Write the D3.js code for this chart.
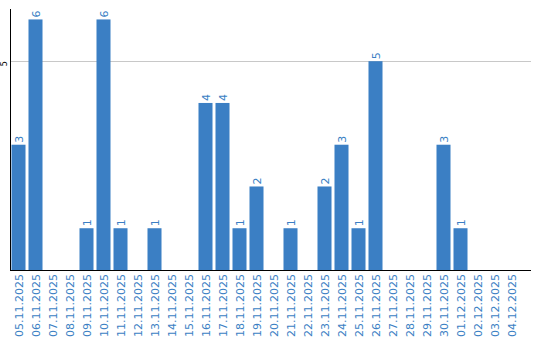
<!DOCTYPE html>
<html>
<head>
<meta charset="utf-8">
<script src="https://cdn.jsdelivr.net/npm/d3@7"></script>
<style>
  body { margin: 0; background: #fff; }
  svg text { font-family: "DejaVu Sans", Verdana, sans-serif; }
</style>
</head>
<body>
<div id="chart"></div>
<script>
var dates = [
  "05.11.2025", "06.11.2025", "07.11.2025", "08.11.2025", "09.11.2025",
  "10.11.2025", "11.11.2025", "12.11.2025", "13.11.2025", "14.11.2025",
  "15.11.2025", "16.11.2025", "17.11.2025", "18.11.2025", "19.11.2025",
  "20.11.2025", "21.11.2025", "22.11.2025", "23.11.2025", "24.11.2025",
  "25.11.2025", "26.11.2025", "27.11.2025", "28.11.2025", "29.11.2025",
  "30.11.2025", "01.12.2025", "02.12.2025", "03.12.2025", "04.12.2025"
];
var counts = [3, 6, 0, 0, 1, 6, 1, 0, 1, 0, 0, 4, 4, 1, 2, 0, 1, 0, 2, 3, 1, 5, 0, 0, 0, 3, 1, 0, 0, 0];
var yTicks = [5];

var width = 540, height = 340;
var plotLeft = 10, plotRight = 531, plotTop = 9, plotBottom = 270;
var barColor = "#3b7fc4";

var svg = d3.select("#chart").append("svg")
  .attr("width", width)
  .attr("height", height);

var x = d3.scaleBand()
  .domain(dates)
  .range([plotLeft, 520])
  .paddingInner(0.176)
  .paddingOuter(0.088);

var y = d3.scaleLinear()
  .domain([0, 6.25])
  .range([plotBottom, plotTop]);

// grid line at 5
svg.selectAll(".grid")
  .data(yTicks)
  .enter()
  .append("line")
  .attr("class", "grid")
  .attr("x1", plotLeft)
  .attr("x2", plotRight)
  .attr("y1", function (d) { return Math.round(y(d)) + 0.5; })
  .attr("y2", function (d) { return Math.round(y(d)) + 0.5; })
  .attr("stroke", "#c8c8c8")
  .attr("stroke-width", 1);

// y tick labels, rotated
svg.selectAll(".ytick")
  .data(yTicks)
  .enter()
  .append("text")
  .attr("class", "ytick")
  .attr("transform", function (d) {
    return "translate(7," + (y(d) + 2.5) + ") rotate(-90)";
  })
  .attr("text-anchor", "middle")
  .style("font-size", "8px")
  .style("fill", "#000")
  .text(function (d) { return d; });

// bars
svg.selectAll(".bar")
  .data(counts)
  .enter()
  .append("rect")
  .attr("class", "bar")
  .attr("x", function (d, i) { return x(dates[i]); })
  .attr("width", x.bandwidth())
  .attr("y", function (d) { return y(d); })
  .attr("height", function (d) { return plotBottom - y(d); })
  .attr("fill", barColor);

// value labels above bars (rotated)
counts.forEach(function (d, i) {
  if (d <= 0) return;
  svg.append("text")
    .attr("class", "val")
    .attr("transform", "translate(" + (x(dates[i]) + x.bandwidth() / 2 + 4) + "," + (y(d) - 2) + ") rotate(-90)")
    .attr("text-anchor", "start")
    .style("font-size", "11px")
    .style("fill", barColor)
    .text(d);
});

// axis lines
svg.append("line")
  .attr("x1", plotLeft + 0.5).attr("x2", plotLeft + 0.5)
  .attr("y1", plotTop).attr("y2", plotBottom + 1)
  .attr("stroke", "#000");
svg.append("line")
  .attr("x1", plotLeft).attr("x2", plotRight)
  .attr("y1", plotBottom + 0.5).attr("y2", plotBottom + 0.5)
  .attr("stroke", "#000");

// x labels
svg.selectAll(".xlab")
  .data(dates)
  .enter()
  .append("text")
  .attr("class", "xlab")
  .attr("transform", function (d) {
    return "translate(" + (x(d) + x.bandwidth() / 2 + 4) + "," + (plotBottom + 4) + ") rotate(-90)";
  })
  .attr("text-anchor", "end")
  .style("font-size", "11px")
  .style("fill", barColor)
  .text(function (d) { return d; });
</script>
</body>
</html>
